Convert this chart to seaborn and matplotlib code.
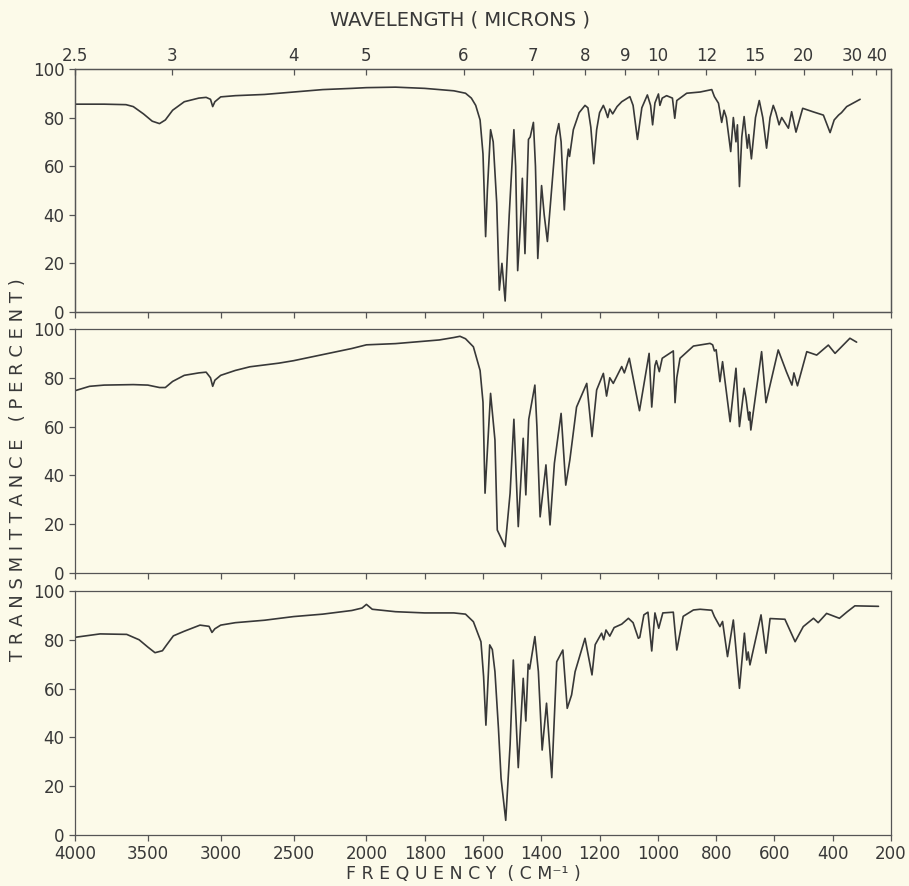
import numpy as np
import pandas as pd
import matplotlib
matplotlib.use('Agg')
import matplotlib.pyplot as plt
import seaborn as sns

# --- spectra (frequency in cm-1, transmittance in %) ---
nu1 = [4000, 3800, 3650, 3600, 3530, 3470, 3420, 3380, 3330, 3250, 3150, 3100, 3070, 3055, 3040, 3000,
       2900, 2700, 2500, 2300, 2100, 2000, 1900, 1800, 1750, 1700, 1660, 1640, 1625, 1610, 1600, 1591,
       1585, 1574, 1565, 1553, 1544, 1535, 1524, 1510, 1494, 1488, 1481, 1472, 1465, 1456, 1444, 1438,
       1427, 1420, 1412, 1399, 1390, 1379, 1365, 1350, 1340, 1332, 1321, 1312, 1307, 1303, 1290, 1270,
       1250, 1240, 1230, 1220, 1210, 1200, 1187, 1180, 1172, 1165, 1155, 1140, 1124, 1096, 1085, 1070,
       1055, 1036, 1025, 1018, 1010, 998, 993, 985, 970, 950, 942, 935, 901, 855, 815, 806, 792, 781,
       773, 765, 750, 741, 732, 727, 720, 712, 704, 693, 688, 679, 665, 652, 640, 627, 615, 604, 595,
       584, 575, 552, 541, 526, 503, 466, 432, 409, 395, 380, 370, 352, 306]
t1 = [85.5, 85.5, 85.3, 84.5, 81.5, 78.5, 77.5, 79, 83, 86.5, 88, 88.3, 87.5, 84.5, 86.5, 88.5,
      89, 89.5, 90.5, 91.5, 92, 92.3, 92.5, 92, 91.5, 91, 90, 88, 85, 79, 65, 31,
      50, 75, 70, 45, 9, 20, 4.5, 40, 75, 60, 17, 35, 55, 24, 71, 72,
      78, 60, 22, 52, 40, 29, 50, 72, 77.5, 70, 42, 62, 67, 64, 75, 82,
      85, 84, 76, 61, 75, 82, 85, 83, 80, 83.5, 81.5, 84.5, 86.5, 88.6, 85, 71,
      84, 89.3, 85, 77, 86, 89.7, 85, 88, 89, 88, 79.7, 87, 90, 90.5, 91.5, 88.6, 85.9, 78,
      83, 80, 66, 80, 70, 77, 51.6, 72, 80.4, 67.4, 73, 63, 80, 87, 80, 67.4, 80, 85, 82,
      77, 80, 75.6, 82.4, 74, 83.8, 82.3, 81, 73.8, 79, 81, 82, 84.5, 87.5]

nu2 = [4000, 3900, 3800, 3600, 3500, 3420, 3380, 3330, 3250, 3150, 3100, 3070, 3055, 3040, 3000,
       2900, 2800, 2600, 2500, 2300, 2100, 2000, 1900, 1800, 1750, 1700, 1679, 1660, 1633, 1610,
       1600, 1593, 1585, 1574, 1559, 1551, 1524, 1507, 1494, 1479, 1462, 1453, 1443, 1422, 1415,
       1404, 1384, 1370, 1355, 1332, 1316, 1302, 1279, 1244, 1226, 1210, 1187, 1176, 1165, 1153,
       1124, 1115, 1098, 1063, 1030, 1021, 1010, 1005, 995, 985, 947, 941, 935, 924, 878,
       821, 812, 806, 800, 787, 778, 752, 732, 720, 704, 698, 688, 685, 681, 644,
       629, 587, 559, 540, 533, 521, 489, 455, 415, 392, 341, 318]
t2 = [74.7, 76.5, 77, 77.2, 77, 76, 76, 78.5, 81, 82, 82.3, 80, 76.5, 79, 81,
      83, 84.5, 86, 87, 89.5, 92, 93.5, 94, 95, 95.5, 96.5, 97, 96, 92.7, 83,
      70, 32.7, 50, 73.6, 54.5, 17.6, 10.8, 32.7, 63, 19, 55.2, 32, 63, 77, 60,
      23, 44.3, 19.7, 45, 65.4, 36, 46.3, 68, 77.7, 55.9, 75, 81.8, 72.5, 80, 77.7,
      84.6, 82, 88, 66.5, 90, 68, 85, 87, 82.5, 88, 91, 69.8, 80, 88, 93,
      94.1, 93.5, 91, 91.5, 78.4, 86.6, 62, 83.9, 60, 75.7, 72, 62.7, 66, 58.6, 90.7,
      69.8, 91.4, 82.5, 77, 82, 76.7, 90.7, 89.3, 93.4, 90, 96.2, 94.6]

nu3 = [4000, 3828, 3645, 3560, 3500, 3451, 3400, 3371, 3325, 3250, 3142, 3080, 3060, 3040, 3000,
       2900, 2700, 2500, 2300, 2100, 2030, 2000, 1980, 1900, 1800, 1700, 1660, 1633, 1607, 1598,
       1590, 1577, 1568, 1559, 1547, 1538, 1522, 1507, 1496, 1479, 1462, 1453, 1445, 1440, 1422,
       1410, 1397, 1382, 1364, 1347, 1326, 1311, 1296, 1284, 1250, 1226, 1215, 1193, 1186, 1178,
       1165, 1150, 1124, 1101, 1085, 1067, 1062, 1048, 1034, 1021, 1010, 997, 983, 947, 935,
       913, 878, 855, 815, 806, 787, 778, 761, 741, 720, 703, 695, 690, 684, 646,
       629, 615, 564, 529, 501, 466, 450, 421, 377, 350, 324, 243]
t3 = [81, 82.4, 82.2, 80, 77, 74.7, 75.5, 77.9, 81.6, 83.5, 86, 85.5, 83, 84.5, 86,
      87, 88, 89.5, 90.5, 92, 93, 94.5, 92.5, 91.5, 91, 91, 90.5, 87.4, 79.2, 65,
      45, 77.9, 76, 66.9, 43.7, 23.2, 6, 36.9, 71.7, 27.6, 64.2, 46.7, 70, 68, 81.3,
      67, 34.8, 54, 23.5, 71, 75.8, 51.9, 57.4, 66.9, 80.6, 65.6, 78, 82.7, 80, 84,
      81.5, 85, 86.4, 88.8, 87, 80.6, 81, 90.2, 91.3, 75.4, 91, 84.7, 91, 91.3, 75.8,
      89.6, 92.2, 92.5, 92.1, 89.5, 85.4, 87.5, 73.1, 88.1, 60.1, 82.7, 71.7, 75, 69.7, 90.2,
      74.5, 88.7, 88.4, 79.2, 85.4, 88.8, 87, 90.8, 88.8, 91.5, 93.9, 93.7]

freq_ticks = [4000, 3500, 3000, 2500, 2000, 1800, 1600, 1400, 1200, 1000, 800, 600, 400, 200]
wl_ticks = [2.5, 3, 4, 5, 6, 7, 8, 9, 10, 12, 15, 20, 30, 40]
wl_labels = ['2.5', '3', '4', '5', '6', '7', '8', '9', '10', '12', '15', '20', '30', '40']
pct_ticks = [0, 20, 40, 60, 80, 100]

paper = '#fcfae9'
ink = '#383838'

sns.set_theme(style='ticks', rc={'figure.facecolor': paper, 'axes.facecolor': paper,
                                 'axes.edgecolor': '#555555', 'axes.linewidth': 0.9,
                                 'xtick.color': '#555555', 'ytick.color': '#555555',
                                 'text.color': ink})
plt.rcParams['font.family'] = ['DejaVu Sans']


# the chart paper doubles the scale below 2000 cm-1
def fwd(nu):
    nu = np.asarray(nu, dtype=float)
    return np.where(nu >= 2000, nu, 2 * nu - 2000)


def inv(v):
    v = np.asarray(v, dtype=float)
    return np.where(v >= 2000, v, (v + 2000) / 2)


fig = plt.figure(figsize=(9.09, 8.86), dpi=100)
left, width = 0.0825, 0.8977
bottoms = [0.6479, 0.3533, 0.0576]
heights = [0.2743, 0.2754, 0.2754]
spectra = [(nu1, t1), (nu2, t2), (nu3, t3)]

axes = []
for i, (nu, t) in enumerate(spectra):
    ax = fig.add_axes([left, bottoms[i], width, heights[i]])
    df = pd.DataFrame({'nu': nu, 'T': t})
    sns.lineplot(data=df, x='nu', y='T', sort=False, estimator=None, ax=ax,
                 color=ink, linewidth=1.2)
    ax.set_xscale('function', functions=(fwd, inv))
    ax.set_xlim(4000, 200)
    ax.set_ylim(0, 100)
    ax.set_yticks(pct_ticks)
    ax.set_yticklabels([str(p) for p in pct_ticks], fontsize=12, color=ink)
    ax.set_xticks(freq_ticks)
    ax.minorticks_off()
    ax.tick_params(axis='both', direction='out', length=4, width=0.9)
    if i < 2:
        ax.set_xticklabels([])
    else:
        ax.set_xticklabels([str(f) for f in freq_ticks], fontsize=12, color=ink)
        ax.tick_params(axis='x', pad=3)
    ax.set_xlabel('')
    ax.set_ylabel('')
    axes.append(ax)

# wavelength scale along the top of the first panel
ax_top = axes[0].twiny()
ax_top.set_xscale('function', functions=(fwd, inv))
ax_top.set_xlim(4000, 200)
ax_top.set_xticks([1e4 / w for w in wl_ticks])
ax_top.set_xticklabels(wl_labels, fontsize=12, color=ink)
ax_top.minorticks_off()
ax_top.tick_params(axis='x', direction='in', length=4, width=0.9, pad=3)

fig.text(0.506, 0.977, 'WAVELENGTH ( MICRONS )', ha='center', va='center', fontsize=14, color=ink)
fig.text(0.51, 0.013, 'F R E Q U E N C Y  ( C M⁻¹ )', ha='center', va='center', fontsize=12.5, color=ink)
fig.text(0.02, 0.47, 'T R A N S M I T T A N C E   ( P E R C E N T )', ha='center', va='center',
         rotation=90, fontsize=13, color=ink)

fig.savefig('out.png', dpi=100, facecolor=paper)
